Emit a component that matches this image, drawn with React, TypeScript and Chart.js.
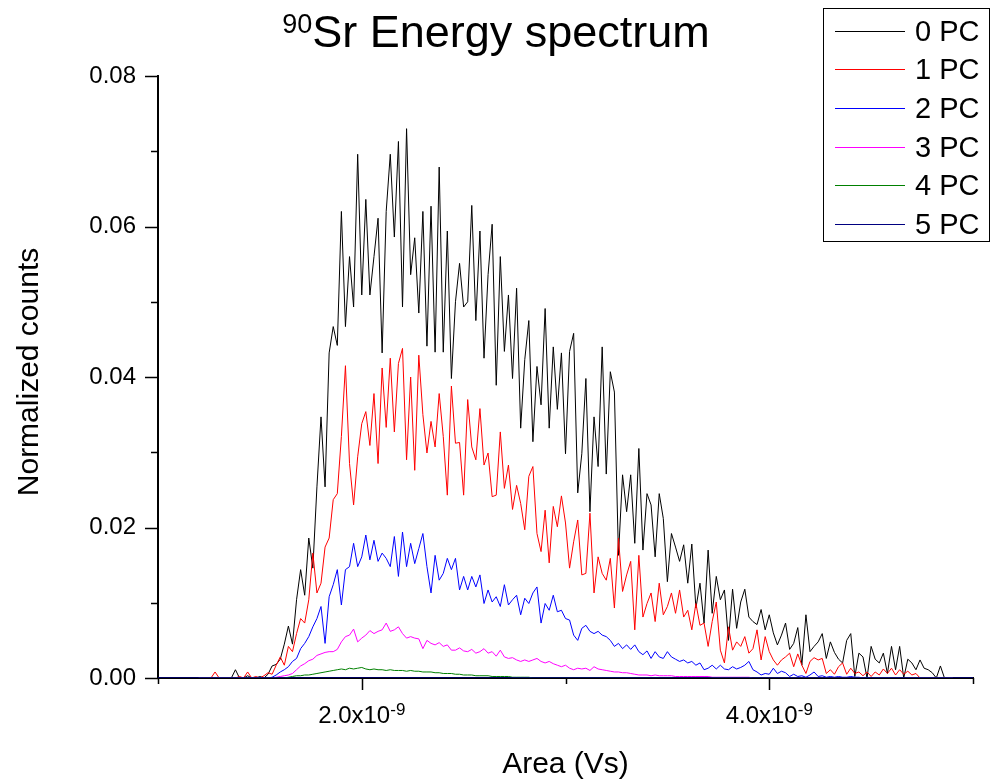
import React, { useEffect, useRef } from "react";
import { Chart, registerables } from "chart.js";

Chart.register(...registerables);

const FONT = "'Liberation Sans', Arial, Helvetica, sans-serif";

// Area in units of 1e-9 Vs
const AREA_E9 = [
  1.20, 1.22, 1.24, 1.26, 1.28, 1.30, 1.32, 1.34, 1.36, 1.38,
  1.40, 1.42, 1.44, 1.46, 1.48, 1.50, 1.52, 1.54, 1.56, 1.58,
  1.60, 1.62, 1.64, 1.66, 1.68, 1.70, 1.72, 1.74, 1.76, 1.78,
  1.80, 1.82, 1.84, 1.86, 1.88, 1.90, 1.92, 1.94, 1.96, 1.98,
  2.00, 2.02, 2.04, 2.06, 2.08, 2.10, 2.12, 2.14, 2.16, 2.18,
  2.20, 2.22, 2.24, 2.26, 2.28, 2.30, 2.32, 2.34, 2.36, 2.38,
  2.40, 2.42, 2.44, 2.46, 2.48, 2.50, 2.52, 2.54, 2.56, 2.58,
  2.60, 2.62, 2.64, 2.66, 2.68, 2.70, 2.72, 2.74, 2.76, 2.78,
  2.80, 2.82, 2.84, 2.86, 2.88, 2.90, 2.92, 2.94, 2.96, 2.98,
  3.00, 3.02, 3.04, 3.06, 3.08, 3.10, 3.12, 3.14, 3.16, 3.18,
  3.20, 3.22, 3.24, 3.26, 3.28, 3.30, 3.32, 3.34, 3.36, 3.38,
  3.40, 3.42, 3.44, 3.46, 3.48, 3.50, 3.52, 3.54, 3.56, 3.58,
  3.60, 3.62, 3.64, 3.66, 3.68, 3.70, 3.72, 3.74, 3.76, 3.78,
  3.80, 3.82, 3.84, 3.86, 3.88, 3.90, 3.92, 3.94, 3.96, 3.98,
  4.00, 4.02, 4.04, 4.06, 4.08, 4.10, 4.12, 4.14, 4.16, 4.18,
  4.20, 4.22, 4.24, 4.26, 4.28, 4.30, 4.32, 4.34, 4.36, 4.38,
  4.40, 4.42, 4.44, 4.46, 4.48, 4.50, 4.52, 4.54, 4.56, 4.58,
  4.60, 4.62, 4.64, 4.66, 4.68, 4.70, 4.72, 4.74, 4.76, 4.78,
  4.80, 4.82, 4.84, 4.86, 4.88, 4.90,
];

const PC0 = [
  0, 0, 0, 0, 0, 0, 0, 0, 0, 0.0011,
  0, 0, 0.0003, 0, 0, 0.0002, 0, 0.0005, 0.0016, 0.0018,
  0.0025, 0.0045, 0.0069, 0.0045, 0.0104, 0.0144, 0.011, 0.0186, 0.0146, 0.0254,
  0.0347, 0.0254, 0.0432, 0.0467, 0.0442, 0.062, 0.0467, 0.056, 0.0493, 0.0696,
  0.0509, 0.0636, 0.0509, 0.056, 0.0611, 0.0432, 0.062, 0.0696, 0.0586, 0.0713,
  0.0493, 0.073, 0.0536, 0.0585, 0.0485, 0.062, 0.0441, 0.0627, 0.0433, 0.0679,
  0.0433, 0.0594, 0.0398, 0.05, 0.0551, 0.0493, 0.05, 0.0628, 0.0475, 0.0594,
  0.0425, 0.0536, 0.0603, 0.0389, 0.056, 0.0434, 0.0509, 0.0398, 0.0518, 0.0332,
  0.0423, 0.0475, 0.0314, 0.0414, 0.0363, 0.0491, 0.0332, 0.044, 0.0357, 0.0432,
  0.0298, 0.0434, 0.0458, 0.0246, 0.0298, 0.0398, 0.0221, 0.0347, 0.0281, 0.044,
  0.0271, 0.0407, 0.038, 0.0163, 0.027, 0.0221, 0.027, 0.0179, 0.0305, 0.017,
  0.0245, 0.023, 0.0161, 0.0245, 0.0212, 0.0128, 0.0192, 0.0174, 0.0155, 0.0177,
  0.0126, 0.0178, 0.0093, 0.0126, 0.0073, 0.017, 0.0086, 0.0135, 0.0104, 0.0117,
  0.005, 0.0118, 0.0066, 0.0101, 0.0118, 0.0081, 0.0075, 0.0071, 0.0091, 0.0064,
  0.0084, 0.006, 0.0044, 0.0057, 0.0073, 0.0038, 0.0046, 0.0067, 0.0017, 0.0084,
  0.0035, 0.0042, 0.0048, 0.0059, 0.0026, 0.0048, 0.0034, 0.0025, 0.002, 0.005,
  0.0059, 0.0002, 0.0033, 0.0028, 0, 0.0042, 0.0025, 0.002, 0.0033, 0.0006,
  0.0042, 0.0011, 0.0042, 0, 0.0025, 0.002, 0.0011, 0.0024, 0.0013, 0.0011,
  0.0007, 0, 0.0016, 0, 0, 0,
];

const PC1 = [
  0, 0, 0, 0, 0.0008, 0, 0, 0, 0, 0,
  0.0002, 0, 0.0008, 0, 0.0002, 0, 0.0003, 0.0007, 0.0005, 0.0017,
  0.0028, 0.0017, 0.0042, 0.0035, 0.0059, 0.0079, 0.0073, 0.0104, 0.0166, 0.0113,
  0.0126, 0.0174, 0.0186, 0.0237, 0.0245, 0.0321, 0.0415, 0.0285, 0.023, 0.0294,
  0.0338, 0.0354, 0.0309, 0.0378, 0.0285, 0.0412, 0.0333, 0.0425, 0.0327, 0.0418,
  0.0438, 0.029, 0.04, 0.0276, 0.0429, 0.035, 0.0299, 0.0341, 0.0307, 0.0378,
  0.0321, 0.0243, 0.0388, 0.0312, 0.0313, 0.0243, 0.037, 0.0307, 0.029, 0.0358,
  0.0283, 0.0299, 0.0241, 0.0243, 0.0327, 0.0252, 0.0283, 0.0224, 0.0256, 0.0232,
  0.0197, 0.0268, 0.0281, 0.0192, 0.0168, 0.0223, 0.0153, 0.0228, 0.0201, 0.0242,
  0.0206, 0.0146, 0.0181, 0.021, 0.0137, 0.0139, 0.0219, 0.0113, 0.0161, 0.0139,
  0.013, 0.0159, 0.0093, 0.0186, 0.0115, 0.0137, 0.0155, 0.0064, 0.0163, 0.0081,
  0.0099, 0.0113, 0.0075, 0.0126, 0.0084, 0.0095, 0.0113, 0.0086, 0.0117, 0.0081,
  0.009, 0.0064, 0.0099, 0.007, 0.0073, 0.0042, 0.0075, 0.0101, 0.0037, 0.002,
  0.0068, 0.0037, 0.0048, 0.0042, 0.0055, 0.0033, 0.0039, 0.0064, 0.0024, 0.0055,
  0.0035, 0.0024, 0.0017, 0.0024, 0.0028, 0.0033, 0.0015, 0.0032, 0.0017, 0.0006,
  0.0022, 0.0027, 0.0024, 0.0026, 0.0006, 0.0011, 0.0005, 0.0015, 0.002, 0.0005,
  0.0013, 0.0006, 0.0008, 0.0003, 0.0008, 0.0002, 0.0008, 0.0004, 0.0012, 0.0006,
  0.0013, 0.0004, 0.0011, 0.0005, 0.0009, 0.0004, 0.0006, 0, 0, 0,
  0, 0, 0, 0, 0, 0,
];

const PC2 = [
  0, 0, 0, 0, 0, 0, 0, 0, 0, 0,
  0, 0, 0, 0, 0, 0, 0, 0, 0.0001, 0.0004,
  0.0008, 0.0011, 0.0015, 0.0022, 0.0026, 0.0039, 0.0046, 0.0055, 0.0068, 0.0079,
  0.0095, 0.0046, 0.0108, 0.0124, 0.0144, 0.0097, 0.0144, 0.0148, 0.0179, 0.0148,
  0.0161, 0.019, 0.0157, 0.0183, 0.0155, 0.0166, 0.0159, 0.0148, 0.0188, 0.0135,
  0.0194, 0.0148, 0.0179, 0.0152, 0.0172, 0.0192, 0.0148, 0.0113, 0.0163, 0.013,
  0.0139, 0.0159, 0.0144, 0.0159, 0.0117, 0.0135, 0.0117, 0.0135, 0.0121, 0.0137,
  0.0099, 0.0117, 0.0101, 0.0108, 0.0095, 0.0124, 0.0097, 0.0104, 0.011, 0.0084,
  0.0106, 0.0099, 0.0113, 0.0121, 0.0073, 0.0099, 0.009, 0.011, 0.0088, 0.009,
  0.0079, 0.0077, 0.0057, 0.005, 0.0066, 0.007, 0.0062, 0.0059, 0.0062, 0.0057,
  0.0055, 0.005, 0.0042, 0.0046, 0.0039, 0.0044, 0.0038, 0.0044, 0.0035, 0.0031,
  0.0036, 0.0026, 0.0035, 0.0028, 0.0026, 0.0035, 0.0028, 0.0025, 0.0022, 0.0024,
  0.002, 0.0022, 0.0017, 0.002, 0.0011, 0.0013, 0.0017, 0.0012, 0.0017, 0.0012,
  0.0011, 0.0015, 0.0012, 0.0014, 0.0017, 0.0022, 0.0011, 0.0008, 0.0004, 0.0006,
  0.0005, 0.0013, 0.0006, 0.0009, 0.0007, 0.0002, 0.0005, 0.0002, 0.0003, 0.0001,
  0.0004, 0.0008, 0.0002, 0.0003, 0.0001, 0.0002, 0.0001, 0.0002, 0.0001, 0.0001,
  0.0002, 0.0001, 0.0001, 0, 0.0001, 0, 0, 0, 0, 0,
  0, 0, 0, 0, 0, 0, 0, 0, 0, 0,
  0, 0, 0, 0, 0, 0,
];

const PC3 = [
  0, 0, 0, 0, 0, 0, 0, 0, 0, 0,
  0, 0, 0, 0, 0, 0, 0, 0, 0, 0.0001,
  0.0002, 0.0003, 0.0004, 0.0006, 0.0011, 0.0016, 0.0019, 0.0023, 0.0025, 0.003,
  0.0032, 0.0034, 0.0035, 0.0035, 0.0038, 0.0048, 0.0055, 0.0057, 0.0065, 0.0048,
  0.0053, 0.0057, 0.0063, 0.0059, 0.0062, 0.0064, 0.0073, 0.0062, 0.0064, 0.0068,
  0.0059, 0.0053, 0.0055, 0.0053, 0.0052, 0.0039, 0.005, 0.0046, 0.0044, 0.0047,
  0.0042, 0.0044, 0.0037, 0.0037, 0.004, 0.0036, 0.0035, 0.0038, 0.0033, 0.0035,
  0.0039, 0.0033, 0.0035, 0.0029, 0.0037, 0.0028, 0.0026, 0.0027, 0.0024, 0.0022,
  0.0024, 0.0022, 0.0024, 0.0026, 0.0022, 0.002, 0.0022, 0.0019, 0.0017, 0.0015,
  0.0017, 0.0013, 0.0011, 0.0013, 0.0012, 0.0013, 0.001, 0.0015, 0.0012, 0.0011,
  0.001, 0.0009, 0.0008, 0.0008, 0.0007, 0.0007, 0.0006, 0.0005, 0.0004, 0.0004,
  0.0004, 0.0003, 0.0004, 0.0003, 0.0003, 0.0003, 0.0003, 0.0002, 0.0002, 0.0002,
  0.0002, 0.0002, 0.0002, 0.0002, 0.0002, 0.0002, 0.0001, 0.0001, 0.0001, 0.0001,
  0.0001, 0.0001, 0.0001, 0.0001, 0.0001, 0.0001, 0, 0, 0, 0,
  0, 0, 0, 0, 0, 0, 0, 0, 0, 0,
  0, 0, 0, 0, 0, 0, 0, 0, 0, 0,
  0, 0, 0, 0, 0, 0, 0, 0, 0, 0,
  0, 0, 0, 0, 0, 0, 0, 0, 0, 0,
  0, 0, 0, 0, 0, 0,
];

const PC4 = [
  0, 0, 0, 0, 0, 0, 0, 0, 0, 0,
  0, 0, 0, 0, 0, 0, 0, 0, 0, 0,
  0, 0, 0.0001, 0.0002, 0.0003, 0.0003, 0.0004, 0.0004, 0.0005, 0.0006,
  0.0007, 0.0008, 0.0009, 0.001, 0.0011, 0.0012, 0.0011, 0.0013, 0.0012, 0.0013,
  0.0014, 0.0012, 0.0011, 0.0012, 0.0011, 0.0011, 0.001, 0.0011, 0.001, 0.001,
  0.001, 0.0009, 0.001, 0.0009, 0.0009, 0.0008, 0.0008, 0.0008, 0.0007, 0.0007,
  0.0006, 0.0006, 0.0006, 0.0005, 0.0005, 0.0004, 0.0004, 0.0004, 0.0003, 0.0003,
  0.0003, 0.0003, 0.0002, 0.0002, 0.0002, 0.0002, 0.0002, 0.0001, 0.0001, 0.0001,
  0.0001, 0.0001, 0, 0, 0, 0, 0, 0, 0, 0,
  0, 0, 0, 0, 0, 0, 0, 0, 0, 0,
  0, 0, 0, 0, 0, 0, 0, 0, 0, 0,
  0, 0, 0, 0, 0, 0, 0, 0, 0, 0,
  0, 0, 0, 0, 0, 0, 0, 0, 0, 0,
  0, 0, 0, 0, 0, 0, 0, 0, 0, 0,
  0, 0, 0, 0, 0, 0, 0, 0, 0, 0,
  0, 0, 0, 0, 0, 0, 0, 0, 0, 0,
  0, 0, 0, 0, 0, 0, 0, 0, 0, 0,
  0, 0, 0, 0, 0, 0, 0, 0, 0, 0,
  0, 0, 0, 0, 0, 0,
];

// 5 PC spans the whole axis at zero
const PC5_AREA_E9 = [1.0, 1.5, 2.0, 2.5, 3.0, 3.5, 4.0, 4.5, 5.0];
const PC5 = [0, 0, 0, 0, 0, 0, 0, 0, 0];

const SERIES_LABELS = ["0 PC", "1 PC", "2 PC", "3 PC", "4 PC", "5 PC"];
const SERIES_COLORS = ["#000000", "#FF0000", "#0000FF", "#FF00FF", "#008000", "#000080"];

const X_MIN = 1;
const X_MAX = 5;
const Y_MIN = 0;
const Y_MAX = 0.08;
const X_MAJOR_TICKS = [2, 4];
const X_MINOR_TICKS = [1, 3, 5];
const X_TICK_MANTISSA = ["2.0x10", "4.0x10"];
const X_TICK_EXPONENT = "-9";
const Y_MAJOR_TICKS = [0, 0.02, 0.04, 0.06, 0.08];
const Y_MINOR_TICKS = [0.01, 0.03, 0.05, 0.07];

const TITLE_SUP = "90";
const TITLE_MAIN = "Sr Energy spectrum";
const X_TITLE = "Area (Vs)";
const Y_TITLE = "Normalized counts";

const decorPlugin = {
  id: "decor",
  beforeDatasetsDraw(chart: any) {
    const ctx = chart.ctx;
    const xs = chart.scales.x;
    const ys = chart.scales.y;
    const { left, bottom } = chart.chartArea;
    ctx.save();
    ctx.strokeStyle = "#000";
    ctx.lineWidth = 1.5;
    ctx.beginPath();
    for (const v of Y_MAJOR_TICKS) {
      const p = Math.round(ys.getPixelForValue(v)) + 0.5;
      ctx.moveTo(left - 13, p);
      ctx.lineTo(left, p);
    }
    for (const v of Y_MINOR_TICKS) {
      const p = Math.round(ys.getPixelForValue(v)) + 0.5;
      ctx.moveTo(left - 7, p);
      ctx.lineTo(left, p);
    }
    for (const v of X_MAJOR_TICKS) {
      const p = Math.round(xs.getPixelForValue(v)) + 0.5;
      ctx.moveTo(p, bottom);
      ctx.lineTo(p, bottom + 12);
    }
    for (const v of X_MINOR_TICKS) {
      const p = Math.round(xs.getPixelForValue(v)) + 0.5;
      ctx.moveTo(p, bottom);
      ctx.lineTo(p, bottom + 6);
    }
    ctx.stroke();
    ctx.restore();
  },
  afterDraw(chart: any) {
    const ctx = chart.ctx;
    const xs = chart.scales.x;
    const { left, right, top, bottom } = chart.chartArea;
    ctx.save();
    ctx.fillStyle = "#000";
    ctx.textBaseline = "alphabetic";
    ctx.textAlign = "left";

    // x tick labels with superscript exponent
    X_MAJOR_TICKS.forEach((v, i) => {
      const px = xs.getPixelForValue(v);
      ctx.font = `24px ${FONT}`;
      const w1 = ctx.measureText(X_TICK_MANTISSA[i]).width;
      ctx.font = `17px ${FONT}`;
      const w2 = ctx.measureText(X_TICK_EXPONENT).width;
      const sx = px - (w1 + w2) / 2;
      ctx.font = `24px ${FONT}`;
      ctx.fillText(X_TICK_MANTISSA[i], sx, bottom + 45);
      ctx.font = `17px ${FONT}`;
      ctx.fillText(X_TICK_EXPONENT, sx + w1, bottom + 37);
    });

    // title
    const cw = chart.width;
    ctx.font = `27px ${FONT}`;
    const tw1 = ctx.measureText(TITLE_SUP).width;
    ctx.font = `45px ${FONT}`;
    const tw2 = ctx.measureText(TITLE_MAIN).width;
    const tx = cw / 2 - (tw1 + tw2) / 2;
    ctx.font = `27px ${FONT}`;
    ctx.fillText(TITLE_SUP, tx, 33);
    ctx.font = `45px ${FONT}`;
    ctx.fillText(TITLE_MAIN, tx + tw1, 47);

    // axis titles
    ctx.font = `30px ${FONT}`;
    ctx.textAlign = "center";
    ctx.fillText(X_TITLE, (left + right) / 2, 773);
    ctx.save();
    ctx.translate(38, (top + bottom) / 2 - 5);
    ctx.rotate(-Math.PI / 2);
    ctx.fillText(Y_TITLE, 0, 0);
    ctx.restore();

    // legend
    const bx = 823.5, by = 8.5, bw = 166, bh = 233;
    ctx.fillStyle = "#fff";
    ctx.fillRect(bx, by, bw, bh);
    ctx.strokeStyle = "#000";
    ctx.lineWidth = 1;
    ctx.strokeRect(bx, by, bw, bh);
    ctx.textAlign = "left";
    ctx.textBaseline = "middle";
    ctx.font = `29px ${FONT}`;
    chart.data.datasets.forEach((ds: any, i: number) => {
      const ly = Math.round(30.7 + i * 38.66) + 0.5;
      ctx.strokeStyle = ds.borderColor;
      ctx.lineWidth = 1;
      ctx.beginPath();
      ctx.moveTo(835, ly);
      ctx.lineTo(905, ly);
      ctx.stroke();
      ctx.fillStyle = "#000";
      ctx.fillText(ds.label, 915, ly + 1);
    });
    ctx.restore();
  },
};

export default function App() {
  const canvasRef = useRef<HTMLCanvasElement | null>(null);

  useEffect(() => {
    const canvas = canvasRef.current;
    if (!canvas) return;
    const seriesValues = [PC0, PC1, PC2, PC3, PC4];
    const datasets: any[] = seriesValues.map((vals, i) => ({
      label: SERIES_LABELS[i],
      data: vals.map((v, j) => ({ x: AREA_E9[j], y: v })),
      borderColor: SERIES_COLORS[i],
      backgroundColor: SERIES_COLORS[i],
      borderWidth: 1,
      pointRadius: 0,
      tension: 0,
      fill: false,
      order: 5 - i,
    }));
    datasets.push({
      label: SERIES_LABELS[5],
      data: PC5.map((v, j) => ({ x: PC5_AREA_E9[j], y: v })),
      borderColor: SERIES_COLORS[5],
      backgroundColor: SERIES_COLORS[5],
      borderWidth: 1.5,
      pointRadius: 0,
      tension: 0,
      fill: false,
      order: 0,
    });

    const chart = new Chart(canvas, {
      type: "line",
      data: { datasets },
      options: {
        responsive: false,
        animation: false,
        devicePixelRatio: 1,
        layout: { padding: { left: 0, top: 76, right: 19, bottom: 0 } },
        plugins: {
          legend: { display: false },
          title: { display: false },
          tooltip: { enabled: false },
        },
        scales: {
          x: {
            type: "linear",
            min: X_MIN,
            max: X_MAX,
            grid: { display: false, drawTicks: false },
            border: { display: true, color: "#000", width: 2 },
            ticks: { display: false },
            afterFit: (s: any) => {
              s.height = 103;
            },
          },
          y: {
            type: "linear",
            min: Y_MIN,
            max: Y_MAX,
            grid: { display: false, drawTicks: false },
            border: { display: true, color: "#000", width: 2 },
            ticks: {
              stepSize: 0.02,
              padding: 22,
              color: "#000",
              font: { size: 24, family: FONT },
              callback: (v: any) => Number(v).toFixed(2),
            },
            afterFit: (s: any) => {
              s.width = 158;
            },
          },
        },
      } as any,
      plugins: [decorPlugin],
    });
    return () => chart.destroy();
  }, []);

  return (
    <div style={{ position: "absolute", left: 0, top: 0, width: 992, height: 781, background: "#fff" }}>
      <canvas ref={canvasRef} width={992} height={781} style={{ width: 992, height: 781, display: "block" }} />
    </div>
  );
}
